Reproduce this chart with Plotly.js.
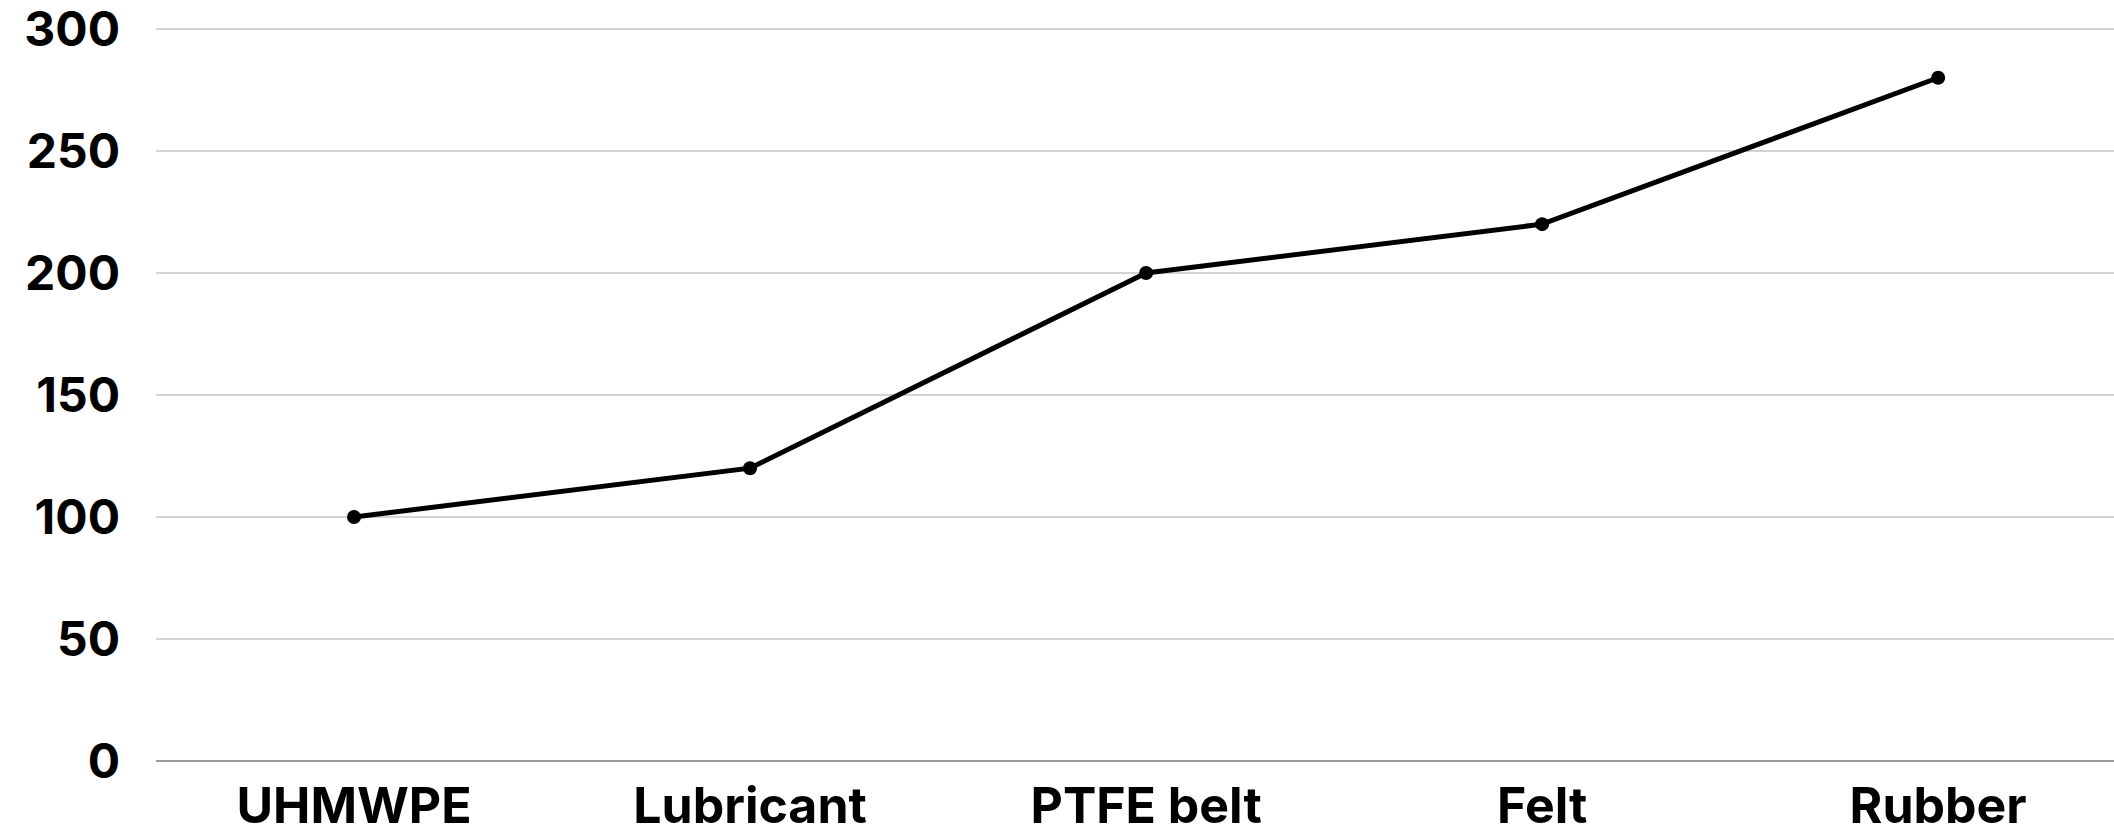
<!DOCTYPE html>
<html>
<head>
<meta charset="utf-8">
<script src="https://cdn.plot.ly/plotly-3.0.1.min.js"></script>
<style>html,body{margin:0;padding:0;background:#fff;}#chart{width:2114px;height:832px;}</style>
</head>
<body>
<div id="chart"></div>
<script>
const categories = ["UHMWPE", "Lubricant", "PTFE belt", "Felt", "Rubber"];
const values = [100, 120, 200, 220, 280];
const yTicks = [0, 50, 100, 150, 200, 250, 300];

const trace = {
  x: categories,
  y: values,
  type: "scatter",
  mode: "lines+markers",
  line: {color: "#000000", width: 5},
  marker: {color: "#000000", size: 14},
  hoverinfo: "skip",
  cliponaxis: false
};

const layout = {
  width: 2114,
  height: 832,
  margin: {l: 156, r: 0, t: 27, b: 71, pad: 0},
  paper_bgcolor: "#ffffff",
  plot_bgcolor: "#ffffff",
  showlegend: false,
  font: {family: "Inter, Liberation Sans, Arial, sans-serif", color: "#000000"},
  xaxis: {
    type: "category",
    range: [-0.5, 4.444],
    showgrid: false,
    zeroline: false,
    showline: false,
    ticks: "",
    ticklabelstandoff: 11,
    ticklabeloverflow: "allow",
    tickfont: {size: 50, family: "Inter, Liberation Sans, Arial, sans-serif", weight: "bold", color: "#000"}
  },
  yaxis: {
    range: [0, 300.8],
    tickvals: yTicks,
    ticktext: yTicks.map(String),
    showgrid: true,
    gridcolor: "#d3d3d3",
    gridwidth: 1.5,
    zeroline: true,
    zerolinecolor: "#999999",
    zerolinewidth: 2,
    showline: false,
    ticks: "",
    ticklabelstandoff: 35,
    ticklabeloverflow: "allow",
    tickfont: {size: 48, family: "Inter, Liberation Sans, Arial, sans-serif", weight: "bold", color: "#000"}
  }
};

Plotly.newPlot("chart", [trace], layout, {staticPlot: true, displayModeBar: false});
</script>
</body>
</html>
